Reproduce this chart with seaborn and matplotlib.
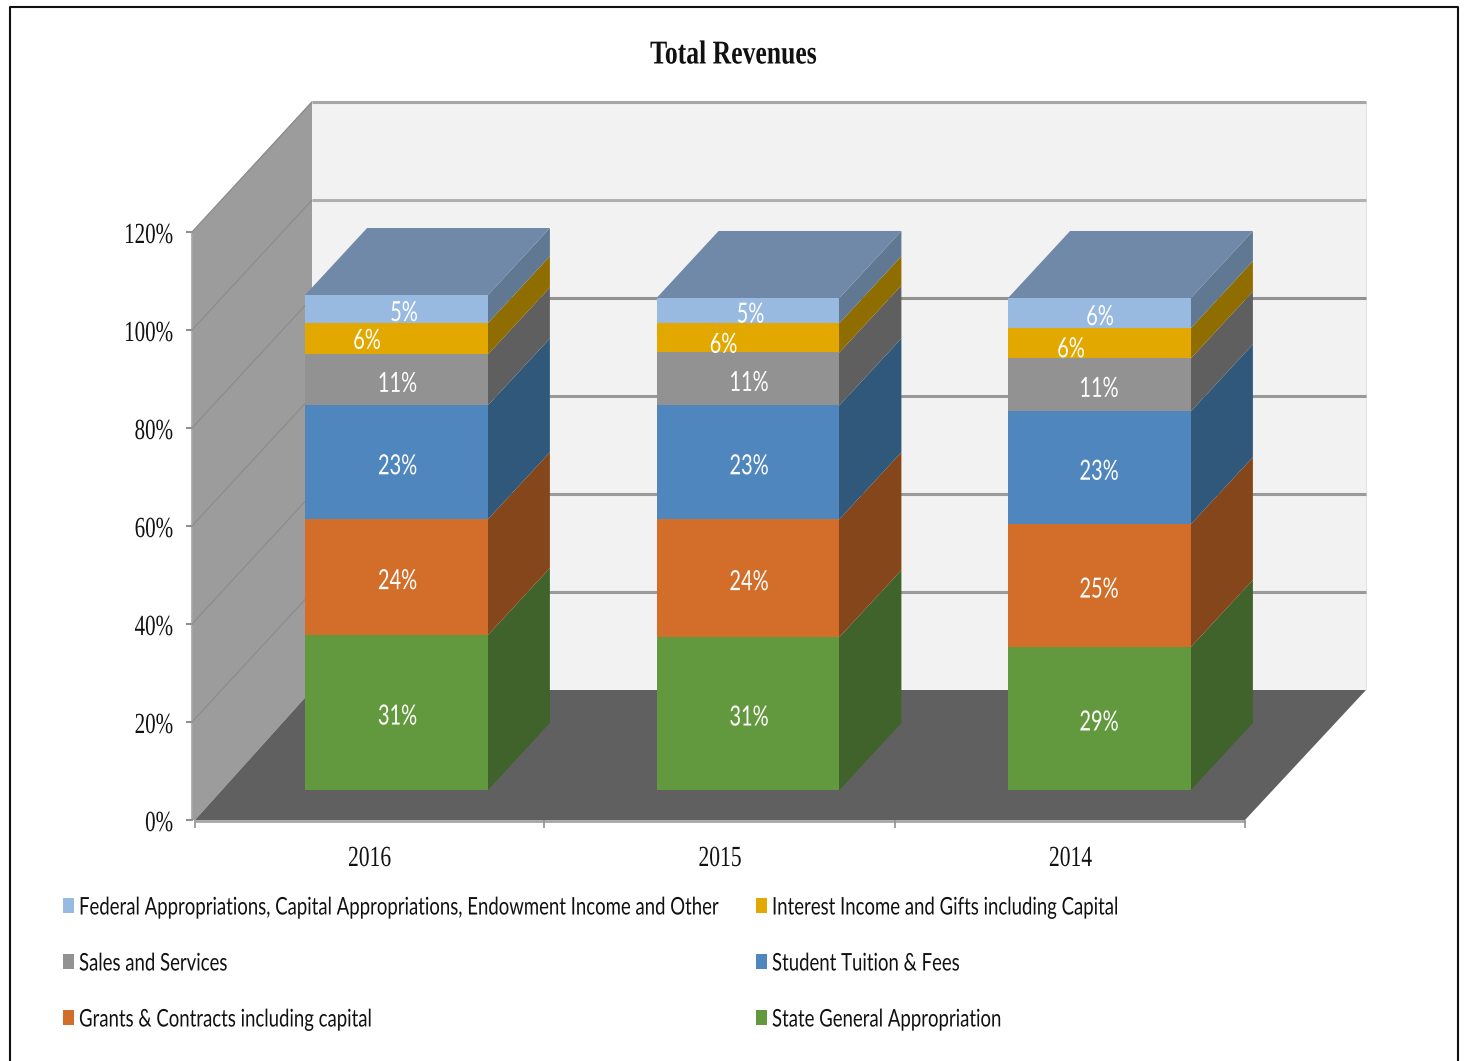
import matplotlib
matplotlib.use("Agg")
import matplotlib.pyplot as plt
from matplotlib.patches import Polygon, Rectangle
from matplotlib.patheffects import AbstractPathEffect
from matplotlib.transforms import Affine2D
import numpy as np
import seaborn as sns

years = ["2016", "2015", "2014"]
series = ["State General Appropriation", "Grants & Contracts including capital",
          "Student Tuition & Fees", "Sales and Services",
          "Interest Income and Gifts including Capital",
          "Federal Appropriations, Capital Appropriations, Endowment Income and Other"]
state = [31.3, 30.9, 28.9]
grants = [23.4, 23.8, 24.8]
tuition = [23.0, 23.0, 22.8]
sales = [10.3, 10.7, 10.7]
interest = [6.3, 5.9, 6.1]
federal = [5.7, 5.1, 6.1]
labels = [["31%", "31%", "29%"], ["24%", "24%", "25%"], ["23%", "23%", "23%"],
          ["11%", "11%", "11%"], ["6%", "6%", "6%"], ["5%", "5%", "6%"]]
yticks = ["0%", "20%", "40%", "60%", "80%", "100%", "120%"]

front = ["#63993e", "#d26e29", "#4f86bd", "#929292", "#e2a800", "#98b9e0"]
side = ["#3f632a", "#84461a", "#30587b", "#5f5f5f", "#8f6d00", "#607891"]
top_col = "#7089a9"

W, H = 1465, 1061
sns.set_theme(style="white")
fig = plt.figure(figsize=(W / 100, H / 100), dpi=100)
ax = fig.add_axes([0, 0, 1, 1])
ax.set_axis_off()

# pixel transform for the chart furniture, origin top left like the picture
px = Affine2D().scale(1, -1).translate(0, H)


class Squeeze(AbstractPathEffect):
    """the original text is a horizontally squashed screenshot, do the same around x0"""
    def __init__(self, x0, sx):
        super().__init__()
        self.x0, self.sx = x0, sx

    def draw_path(self, renderer, gc, tpath, affine, rgbFace=None):
        squash = Affine2D().translate(-self.x0, 0).scale(self.sx, 1).translate(self.x0, 0)
        renderer.draw_path(gc, tpath, affine + squash, rgbFace)


def poly(points, color, z=1):
    ax.add_patch(Polygon(points, closed=True, fc=color, ec="none", transform=px, zorder=z))


def line(xs, ys, color, lw, z=2):
    ax.plot(xs, ys, color=color, lw=lw, transform=px, zorder=z, solid_capstyle="butt")


def label(x, y, s, size, sx, ha="center", family="Liberation Serif", color="#111111", **kw):
    t = ax.text(x, y, s, transform=px, ha=ha, va="center", fontsize=size, family=family,
                color=color, zorder=9, **kw)
    t.set_path_effects([Squeeze(x, sx)])


# outer frame
line([10, 10, 1458, 1458], [1061, 7, 7, 1061], "#111111", 1.5)

# walls and floor
poly([(312, 101), (1366, 101), (1366, 690), (312, 690)], "#f2f2f2")
poly([(192, 232), (312, 101), (312, 690), (195, 820), (192, 820)], "#9c9c9c")
poly([(195, 820), (312, 690), (1366, 690), (1245, 820)], "#606060")
line([1366, 1366], [101, 690], "#e4e4e4", 0.8)
line([195, 1245], [821, 821], "#a6a6a6", 2, 3)
line([192, 192], [232, 820], "#a6a6a6", 1.2, 3)

grid_cols = [None, "#9a9a9a", "#9a9a9a", "#9a9a9a", "#929292", "#b0b0b0", "#a6a6a6"]
for k, lab in enumerate(yticks):
    y = 820 - 98 * k
    line([186, 193], [y, y], "#909090", 1.5, 3)
    label(173, y + 4, lab, 21, 0.72, ha="right")
    if k > 0:
        line([312, 1366], [y - 130, y - 130], grid_cols[k], 2.2)
        line([192, 312], [y, y - 130], "#8c8c8c", 0.9)

for x in [195, 544, 895, 1245]:
    line([x, x], [820, 828], "#909090", 1.2, 3)

# stacked bars, data units scaled so that the front faces land on the picture
bottom = np.zeros(3)
values = [state, grants, tuition, sales, interest, federal]
for vals, col in zip(values, front):
    sns.barplot(x=years, y=vals, bottom=bottom, color=col, saturation=1, width=0.52,
                linewidth=0, ax=ax, zorder=6, legend=False)
    bottom = bottom + np.array(vals)

x_unit, y_unit = 351.5, 4.95
ax.set_xlim(-396.5 / x_unit, (W - 396.5) / x_unit)
ax.set_ylim(-(H - 790) / y_unit, 790 / y_unit)
ax.set_axis_off()

# depth of the bars
dx, dy = 62 / x_unit, 67 / y_unit
bars = [p for p in ax.patches if isinstance(p, Rectangle)]
for i, bar in enumerate(bars):
    x0, y0, w, h = bar.get_x(), bar.get_y(), bar.get_width(), bar.get_height()
    x1 = x0 + w
    y1 = y0 + h
    xs = x1 - 0.004  # tuck under the front face so no seam shows
    ax.add_patch(Polygon([(xs, y0), (x1, y0), (x1 + dx, y0 + dy), (x1 + dx, y1 + dy), (x1, y1), (xs, y1)],
                         fc=side[i // 3], ec="none", zorder=5))
    if i // 3 == 5:
        ax.add_patch(Polygon([(x0, y1), (x0 + dx, y1 + dy), (x1 + dx, y1 + dy), (x1, y1)],
                             fc=top_col, ec="none", zorder=5))

# value labels, the small ones sit off centre in the original
shift = {(4, 0): -29.5, (4, 1): -24.5, (4, 2): -28.5, (5, 0): 7.5, (5, 1): 2.5, (5, 2): 0.5}
lift = {(4, 0): -2, (4, 1): -7, (4, 2): -6}
bottom = np.zeros(3)
for s, vals in enumerate(values):
    for i, v in enumerate(vals):
        xp, yp = ax.transData.transform((i, bottom[i] + v / 2))
        label(xp + shift.get((s, i), 1 if i < 2 else -0.5), H - yp - lift.get((s, i), -4),
              labels[s][i], 20, 0.72, family="Lato", color="white")
    bottom = bottom + np.array(vals)

for i, year in enumerate(years):
    label([369.5, 720, 1070.5][i], 859, year, 21, 0.74)

label(733.5, 55, "Total Revenues", 24, 0.77, fontweight="bold")

# legend, two columns in the original reading order
legend_x = [63, 756]
legend_y = [906, 962, 1018]
order = [[5, 3, 1], [4, 2, 0]]
for c, col in enumerate(order):
    for r, s in enumerate(col):
        ax.add_patch(Rectangle((legend_x[c], legend_y[r] - 8), 11, 15, fc=front[s], ec="none",
                               transform=px, zorder=9))
        label(legend_x[c] + 16, legend_y[r] + 2, series[s], 17.5, 0.764, ha="left", family="Lato")

fig.savefig("out.png", dpi=100)
